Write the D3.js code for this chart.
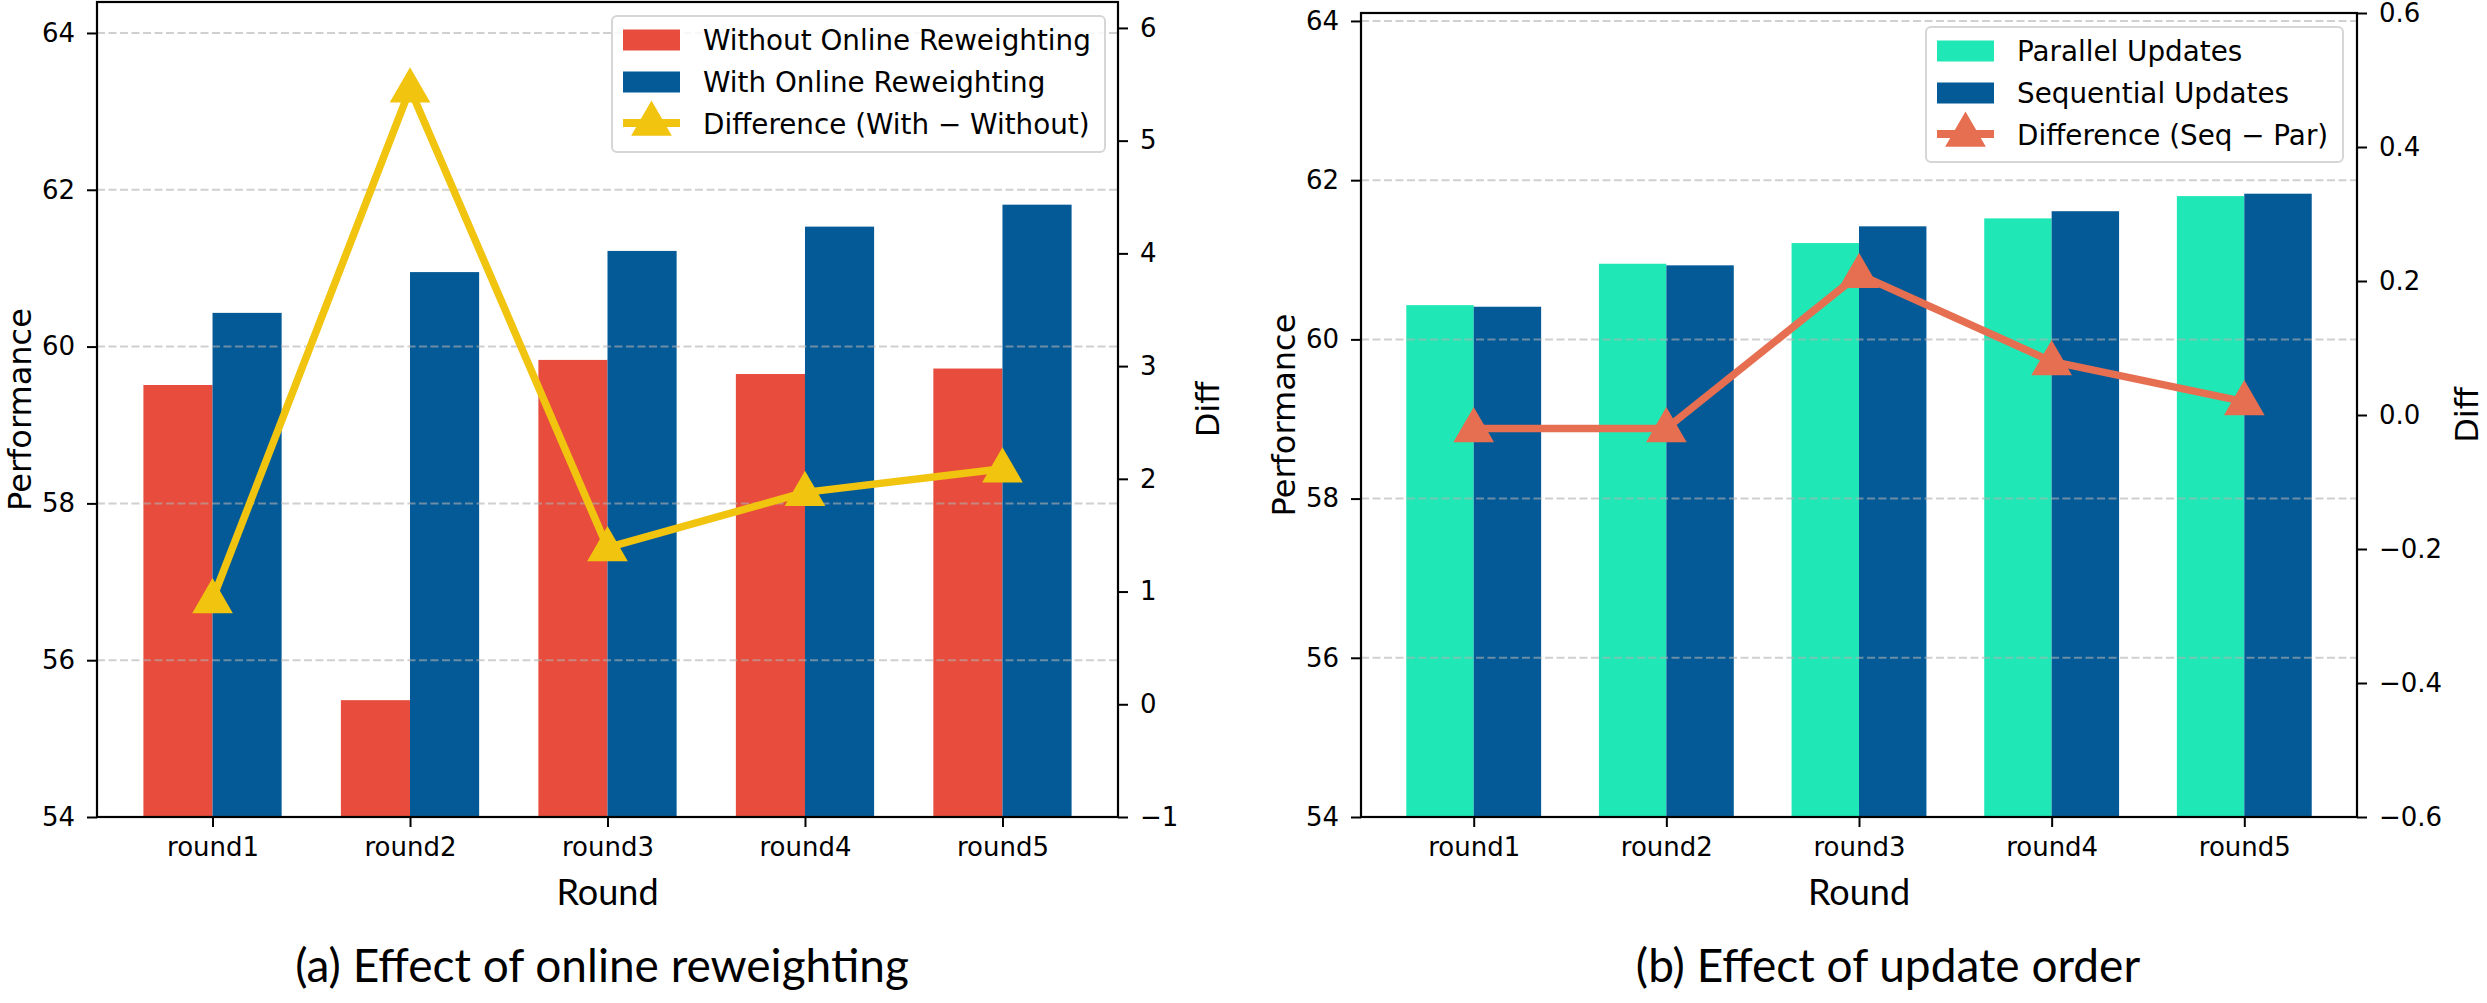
<!DOCTYPE html>
<html>
<head>
<meta charset="utf-8">
<script src="https://cdn.jsdelivr.net/npm/d3@7"></script>
<style>
  html, body { margin: 0; padding: 0; background: #fff; }
  svg { display: block; }
</style>
</head>
<body>
<svg id="chart" width="2487" height="1003"></svg>
<script>
// ---------------- data ----------------
const categories = ["round1", "round2", "round3", "round4", "round5"];

const withoutReweighting = [59.51, 55.49, 59.83, 59.65, 59.72];
const withReweighting    = [60.43, 60.95, 61.22, 61.53, 61.81];
const diffReweighting    = [0.93, 5.46, 1.39, 1.88, 2.09];

const parallelUpdates    = [60.43, 60.95, 61.21, 61.52, 61.80];
const sequentialUpdates  = [60.41, 60.93, 61.42, 61.61, 61.83];
const diffOrder          = [-0.02, -0.02, 0.21, 0.08, 0.02];

const perfTicks  = [54, 56, 58, 60, 62, 64];
const diffTicksA = [-1, 0, 1, 2, 3, 4, 5, 6];
const diffTicksB = [-0.6, -0.4, -0.2, 0.0, 0.2, 0.4, 0.6];

const seriesNamesA = ["Without Online Reweighting", "With Online Reweighting", "Difference (With \u2212 Without)"];
const seriesNamesB = ["Parallel Updates", "Sequential Updates", "Difference (Seq \u2212 Par)"];

// ---------------- drawing ----------------
const svg = d3.select("#chart");
const tickFont = "DejaVu Sans, sans-serif";
const capFont = "Lato, 'Open Sans', sans-serif";

function drawPanel(cfg) {
  const g = svg.append("g");
  const x = d3.scaleLinear().domain([-0.585, 4.585]).range([cfg.x0, cfg.x1]);
  const y = d3.scaleLinear().domain(cfg.yDomain).range([cfg.yBot, cfg.yTop]);
  const y2 = d3.scaleLinear().domain(cfg.y2Domain).range([cfg.yBot, cfg.yTop]);
  const bw = 0.35;

  // bars
  [[cfg.s1, cfg.c1, -bw], [cfg.s2, cfg.c2, 0]].forEach(([vals, col, off]) => {
    g.append("g").selectAll("rect").data(vals).join("rect")
      .attr("x", (d, i) => x(i + off))
      .attr("width", (d, i) => x(i + off + bw) - x(i + off))
      .attr("y", d => y(d))
      .attr("height", d => y(cfg.yDomain[0]) - y(d))
      .attr("fill", col);
  });

  // grid (above bars)
  g.append("g").selectAll("line").data(perfTicks.filter(t => t > cfg.yDomain[0])).join("line")
    .attr("x1", cfg.x0).attr("x2", cfg.x1)
    .attr("y1", d => y(d)).attr("y2", d => y(d))
    .attr("stroke", "#b0b0b0").attr("stroke-opacity", 0.6)
    .attr("stroke-width", 2).attr("stroke-dasharray", "8,3.5");

  // axes
  const styleAxis = sel => {
    sel.select(".domain").remove();
    sel.selectAll(".tick line").attr("stroke", "#000").attr("stroke-width", 2);
    sel.selectAll(".tick text").attr("font-family", tickFont).attr("font-size", 26).attr("fill", "#000");
  };
  g.append("g").attr("transform", `translate(${cfg.x0},0)`)
    .call(d3.axisLeft(y).tickValues(perfTicks).tickFormat(d3.format("d")).tickSize(10).tickPadding(12))
    .call(styleAxis);
  g.append("g").attr("transform", `translate(${cfg.x1},0)`)
    .call(d3.axisRight(y2).tickValues(cfg.y2Ticks).tickFormat(d3.format(cfg.y2Fmt)).tickSize(10).tickPadding(12))
    .call(styleAxis);
  const xa = g.append("g").attr("transform", `translate(0,${cfg.yBot})`)
    .call(d3.axisBottom(x).tickValues(d3.range(categories.length)).tickFormat(i => categories[i]).tickSize(10).tickPadding(11))
    .call(styleAxis);
  xa.selectAll(".tick text").attr("dy", "0.71em");

  // frame
  g.append("rect").attr("x", cfg.x0).attr("y", cfg.yTop)
    .attr("width", cfg.x1 - cfg.x0).attr("height", cfg.yBot - cfg.yTop)
    .attr("fill", "none").attr("stroke", "#000").attr("stroke-width", 2.2);

  // axis labels
  const cy = (cfg.yTop + cfg.yBot) / 2;
  g.append("text").attr("transform", `translate(${cfg.x0 - 66},${cy}) rotate(-90)`)
    .attr("text-anchor", "middle").attr("font-family", tickFont).attr("font-size", 32)
    .text("Performance");
  g.append("text").attr("transform", `translate(${cfg.x1 + 101 + cfg.diffLabelExtra},${cy}) rotate(-90)`)
    .attr("text-anchor", "middle").attr("font-family", tickFont).attr("font-size", 32)
    .text("Diff");
  g.append("text").attr("x", (cfg.x0 + cfg.x1) / 2).attr("y", 905)
    .attr("text-anchor", "middle").attr("font-family", capFont).attr("font-size", 36)
    .text("Round");
  g.append("text").attr("x", cfg.capX).attr("y", 982)
    .attr("text-anchor", "middle").attr("font-family", capFont).attr("font-size", 46)
    .text(cfg.caption);

  // difference line
  const line = d3.line().x((d, i) => x(i)).y(d => y2(d));
  g.append("path").datum(cfg.diff).attr("d", line)
    .attr("fill", "none").attr("stroke", cfg.c3).attr("stroke-width", 7.5)
    .attr("stroke-linejoin", "round");
  const tri = d3.symbol().type(d3.symbolTriangle).size(600);
  g.append("g").selectAll("path").data(cfg.diff).join("path")
    .attr("d", tri)
    .attr("transform", (d, i) => `translate(${x(i)},${y2(d) + 2})`)
    .attr("fill", cfg.c3).attr("stroke", cfg.c3).attr("stroke-width", 2);

  // legend
  const L = cfg.legend;
  const lg = g.append("g");
  lg.append("rect").attr("x", L.x).attr("y", L.y).attr("width", L.w).attr("height", L.h)
    .attr("rx", 5).attr("fill", "#fff").attr("fill-opacity", 0.85)
    .attr("stroke", "#d6d6d6").attr("stroke-width", 2);
  const rowY = [L.y + 24, L.y + 66, L.y + 108];
  [cfg.c1, cfg.c2].forEach((c, k) => {
    lg.append("rect").attr("x", L.x + 11).attr("y", rowY[k] - 10.5)
      .attr("width", 57).attr("height", 21).attr("fill", c);
  });
  lg.append("line").attr("x1", L.x + 11).attr("x2", L.x + 68)
    .attr("y1", rowY[2] - 1).attr("y2", rowY[2] - 1)
    .attr("stroke", cfg.c3).attr("stroke-width", 8);
  lg.append("path").attr("d", tri)
    .attr("transform", `translate(${L.x + 39.5},${rowY[2]})`)
    .attr("fill", cfg.c3).attr("stroke", cfg.c3).attr("stroke-width", 2);
  cfg.names.forEach((n, k) => {
    lg.append("text").attr("x", L.x + 91).attr("y", rowY[k] + 10)
      .attr("font-family", tickFont).attr("font-size", 27.8).text(n);
  });
}

drawPanel({
  x0: 97, x1: 1118, yTop: 2, yBot: 817,
  yDomain: [54, 64.395], y2Domain: [-1, 6.23], y2Ticks: diffTicksA, y2Fmt: "d",
  s1: withoutReweighting, s2: withReweighting, diff: diffReweighting,
  c1: "#E74C3C", c2: "#035A97", c3: "#F1C40F",
  names: seriesNamesA, caption: "(a) Effect of online reweighting", capX: 602,
  legend: { x: 612, y: 16, w: 493, h: 136 }, diffLabelExtra: 0
});

drawPanel({
  x0: 1361, x1: 2357, yTop: 13, yBot: 817,
  yDomain: [54, 64.1], y2Domain: [-0.6, 0.6], y2Ticks: diffTicksB, y2Fmt: ".1f",
  s1: parallelUpdates, s2: sequentialUpdates, diff: diffOrder,
  c1: "#1FE8B6", c2: "#035A97", c3: "#E76F51",
  names: seriesNamesB, caption: "(b) Effect of update order", capX: 1888,
  legend: { x: 1926, y: 27, w: 417, h: 135 }, diffLabelExtra: 20
});
</script>
</body>
</html>
